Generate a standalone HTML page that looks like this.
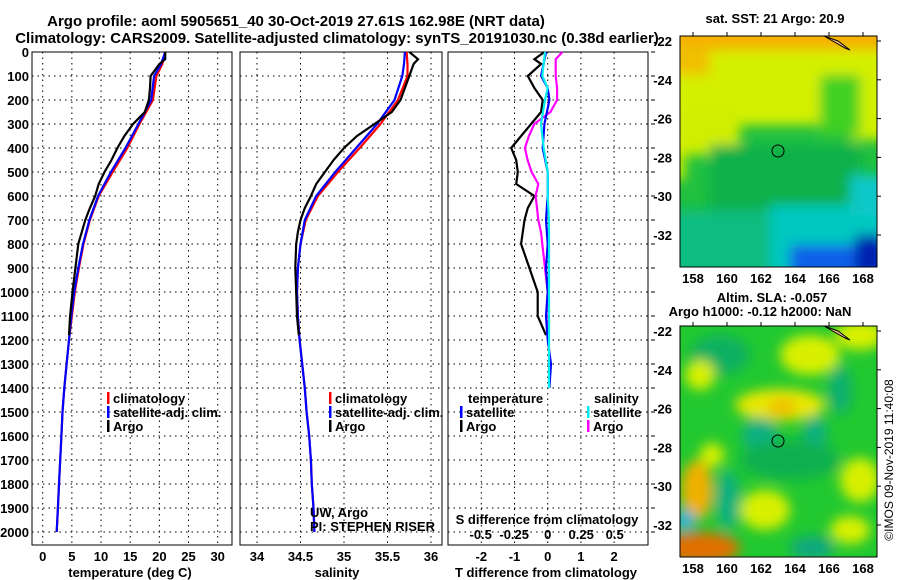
<!DOCTYPE html>
<html><head><meta charset="utf-8"><style>
body{margin:0;background:#fff}
svg{display:block;font-family:"Liberation Sans",sans-serif}
.b{font-weight:bold;font-size:13px}
.t{font-weight:bold;font-size:15px}
.g{stroke:#000;stroke-dasharray:1.5,4;stroke-width:1}
</style></head><body>
<svg id="s" width="900" height="580" xmlns="http://www.w3.org/2000/svg">
<defs>
<filter id="bl" x="-50%" y="-50%" width="200%" height="200%"><feGaussianBlur stdDeviation="6"/></filter>
<clipPath id="c1"><rect x="680" y="36" width="197" height="231"/></clipPath>
<clipPath id="c2"><rect x="680" y="326" width="197" height="231"/></clipPath>
</defs>
<text class="t" x="296" y="26" text-anchor="middle">Argo profile: aoml 5905651_40 30-Oct-2019 27.61S 162.98E (NRT data)</text>
<text class="t" x="337" y="43" text-anchor="middle">Climatology: CARS2009. Satellite-adjusted climatology: synTS_20191030.nc (0.38d earlier)</text>

<!-- map 1 -->
<g clip-path="url(#c1)">
<rect x="680" y="36" width="197" height="231" fill="#20c040"/>
<g filter="url(#bl)">
<rect x="660" y="20" width="240" height="105" fill="#d4f000"/>
<rect x="660" y="20" width="240" height="30" fill="#f5b000"/>
<rect x="660" y="45" width="50" height="30" fill="#f0c000"/>
<rect x="660" y="110" width="80" height="45" fill="#d0ee00"/>
<rect x="660" y="150" width="25" height="30" fill="#c8ee00"/>
<rect x="850" y="80" width="40" height="60" fill="#d0f000"/>
<rect x="820" y="75" width="40" height="60" fill="#40d020"/>
<rect x="710" y="145" width="150" height="80" fill="#10b048"/>
<rect x="660" y="210" width="110" height="70" fill="#10bc80"/>
<rect x="770" y="205" width="120" height="70" fill="#00c8c0"/>
<rect x="850" y="175" width="40" height="40" fill="#10c8c8"/>
<rect x="790" y="245" width="100" height="40" fill="#1060e8"/>
<rect x="855" y="235" width="30" height="40" fill="#0020b0"/>
</g>
</g>
<rect x="680" y="36" width="197" height="231" fill="none" stroke="#000"/>
<path d="M824 36 L845 48 L850 50 L838 41 Z" fill="#f8c090" stroke="#000"/>
<circle cx="778" cy="151" r="6" fill="none" stroke="#000"/>
<text class="b" x="775" y="23" text-anchor="middle">sat. SST: 21 Argo: 20.9</text>

<!-- map 2 -->
<g clip-path="url(#c2)">
<rect x="680" y="326" width="197" height="231" fill="#22c830"/>
<g filter="url(#bl)">
<ellipse cx="720" cy="355" rx="30" ry="20" fill="#10b060"/>
<ellipse cx="810" cy="355" rx="30" ry="20" fill="#d8f000"/>
<ellipse cx="860" cy="335" rx="25" ry="15" fill="#d8f000"/>
<ellipse cx="700" cy="375" rx="15" ry="15" fill="#d8f000"/>
<ellipse cx="780" cy="405" rx="45" ry="16" fill="#e8e800"/>
<ellipse cx="782" cy="408" rx="14" ry="10" fill="#f0c000"/>
<ellipse cx="760" cy="435" rx="18" ry="18" fill="#10b080"/>
<ellipse cx="815" cy="435" rx="12" ry="20" fill="#10b080"/>
<ellipse cx="840" cy="390" rx="12" ry="25" fill="#10b070"/>
<ellipse cx="790" cy="460" rx="50" ry="20" fill="#10b050"/>
<ellipse cx="697" cy="490" rx="16" ry="30" fill="#f0b000"/>
<ellipse cx="728" cy="500" rx="12" ry="30" fill="#10b080"/>
<ellipse cx="765" cy="510" rx="25" ry="20" fill="#d8f000"/>
<ellipse cx="700" cy="548" rx="40" ry="16" fill="#e07000"/>
<ellipse cx="685" cy="520" rx="10" ry="10" fill="#20b0e0"/>
<ellipse cx="812" cy="548" rx="22" ry="12" fill="#10a880"/>
<ellipse cx="860" cy="480" rx="20" ry="22" fill="#d8f000"/>
<ellipse cx="712" cy="455" rx="12" ry="12" fill="#d8f000"/>
<ellipse cx="850" cy="530" rx="20" ry="14" fill="#d8f000"/>
</g>
</g>
<rect x="680" y="326" width="197" height="231" fill="none" stroke="#000"/>
<path d="M824 326 L845 338 L850 340 L838 331 Z" fill="#f8c090" stroke="#000"/>
<circle cx="778" cy="441" r="6" fill="none" stroke="#000"/>
<text class="b" x="772" y="302" text-anchor="middle">Altim. SLA: -0.057</text>
<text class="b" x="760" y="316" text-anchor="middle">Argo h1000: -0.12 h2000: NaN</text>
<text x="893" y="460" font-size="12" text-anchor="middle" transform="rotate(-90 893 460)">©IMOS 09-Nov-2019 11:40:08</text>
<g id="plots"></g>
</svg>
<script>
// depth axis
const depthTicks=[0,100,200,300,400,500,600,700,800,900,1000,1100,1200,1300,1400,1500,1600,1700,1800,1900,2000];
// temperature profiles (deg C)
const tArgoZ=[0,30,50,100,150,200,250,300,350,400,450,500,550,600,650,700,750,800,900,1000,1100,1180];
const tArgo=[21,21,20,18.5,18.4,18.2,17.5,15.5,14,12.8,11.8,10.6,9.6,9,8.1,7.3,6.7,6.1,5.6,5.1,4.7,4.5];
const climZ=[0,50,100,200,300,400,500,600,700,800,900,1000,1100,1200,1300,1400,1500,1600,1700,1800,1900,2000];
const tClim=[21,20.5,19.5,18.9,16.6,14.5,12,9.6,8.1,7,6.2,5.5,5,4.5,4.1,3.7,3.4,3.2,3,2.8,2.6,2.4];
const tSat=[21,20.3,19.1,18.6,16.4,14.2,11.7,9.5,8,6.9,6.1,5.4,4.9,4.5,4.1,3.7,3.4,3.2,3,2.8,2.6,2.4];
const tTicks=[0,5,10,15,20,25,30];
// salinity profiles
const sArgo=[35.75,35.85,35.8,35.75,35.7,35.65,35.55,35.35,35.15,35,34.88,34.78,34.68,34.62,34.55,34.5,34.47,34.45,34.44,34.45,34.46,34.48];
const sClim=[35.72,35.73,35.73,35.62,35.42,35.18,34.93,34.7,34.56,34.5,34.47,34.46,34.47,34.49,34.52,34.55,34.57,34.6,34.62,34.63,34.65,34.66];
const sSat=[35.7,35.69,35.67,35.58,35.38,35.14,34.9,34.68,34.55,34.5,34.47,34.46,34.47,34.49,34.52,34.55,34.57,34.6,34.62,34.63,34.65,34.66];
const sTicks=[34,34.5,35,35.5,36];
// differences
const dTArgo=[-0.1,-0.4,-0.2,-0.6,-0.4,-0.15,-0.2,-0.5,-0.8,-1.1,-0.95,-0.9,-0.95,-0.4,-0.6,-0.7,-0.75,-0.8,-0.55,-0.3,-0.3,-0.05];
const dTSatZ=[0,100,150,200,300,400,500,600,700,800,900,1000,1100,1200,1300,1400];
const dTSat=[-0.05,-0.2,0,0.05,-0.1,-0.15,0,0,-0.05,0,-0.05,0,-0.05,0,0.1,0.05];
const dSArgo=[0.11,0.06,0.06,0.06,0.07,0.07,0.02,-0.1,-0.14,-0.17,-0.15,-0.12,-0.07,-0.09,-0.08,-0.07,-0.05,-0.04,-0.02,0,-0.01,0];
const dSSat=[-0.02,-0.04,0,-0.02,-0.05,-0.03,0,0,0.01,0.01,0.01,0.01,0.01,0.01,0.01,0.01];
const dTTicks=[-2,-1,0,1,2];
const dSTicks=[-0.5,-0.25,0,0.25,0.5];
const lonTicks=[158,160,162,164,166,168];
const latTicks=[-22,-24,-26,-28,-30,-32];

const NS='http://www.w3.org/2000/svg';
const plots=document.getElementById('plots');
function mk(tag,attrs,txt,parent){const e=document.createElementNS(NS,tag);for(const k in attrs)e.setAttribute(k,attrs[k]);if(txt!==undefined)e.textContent=txt;(parent||plots).appendChild(e);return e;}
const TOP=52,BOT=545;
const Y=d=>52+d*(532-52)/2000;
const xT=v=>42.7+v*(175/30);
const xS=v=>257+(v-34)*87;
const xD=v=>547.7+v*33.2;
const xDS=v=>547.7+v*134;
const lonX=v=>693+(v-158)*17;
const latY=(v,o)=>o+(-22-v)*19.4;

const panels=[{x:32,w:200},{x:240,w:202},{x:448,w:200}];
panels.forEach(p=>{
  depthTicks.forEach(d=>{const l=mk('line',{x1:p.x,x2:p.x+p.w,y1:Y(d),y2:Y(d),class:'g'});

});
});
tTicks.forEach(t=>{const l=mk('line',{x1:xT(t),x2:xT(t),y1:TOP,y2:BOT,class:'g'});


const tx=mk('text',{x:xT(t),y:561,'text-anchor':'middle',class:'b'},t);

});
sTicks.forEach(t=>{const l=mk('line',{x1:xS(t),x2:xS(t),y1:TOP,y2:BOT,class:'g'});


const tx=mk('text',{x:xS(t),y:561,'text-anchor':'middle',class:'b'},t);

});
dTTicks.forEach(t=>{const l=mk('line',{x1:xD(t),x2:xD(t),y1:TOP,y2:BOT,class:'g'});


const tx=mk('text',{x:xD(t),y:561,'text-anchor':'middle',class:'b'},t);

});
dSTicks.forEach(t=>{const tx=mk('text',{x:xDS(t),y:539,'text-anchor':'middle',class:'b'},t);

});
depthTicks.forEach(d=>{const tx=mk('text',{x:29,y:Y(d)+5,'text-anchor':'end',class:'b'},d);


const tk=mk('line',{x1:651,x2:655,y1:Y(d),y2:Y(d),stroke:'#000'});

});
panels.forEach(p=>{const r=mk('rect',{x:p.x,y:TOP,width:p.w,height:BOT-TOP,fill:'none',stroke:'#000'});

});

function line(zs,vs,fx,col,name,w){
  const pts=zs.map((z,i)=>fx(vs[i]).toFixed(1)+','+Y(z).toFixed(1)).join(' ');
  const e=mk('polyline',{points:pts,fill:'none',stroke:col,'stroke-width':w||2.2});
  
  
}
line(climZ,tClim,xT,'#f00','temperature-climatology-line');
line(climZ,tSat,xT,'#00f','temperature-satellite-line');
line(tArgoZ,tArgo,xT,'#000','temperature-argo-line');
line(climZ,sClim,xS,'#f00','salinity-climatology-line');
line(climZ,sSat,xS,'#00f','salinity-satellite-line');
line(tArgoZ,sArgo,xS,'#000','salinity-argo-line');
line(tArgoZ,dTArgo,xD,'#000','tdiff-argo-line');
line(tArgoZ,dSArgo,xDS,'#f0f','sdiff-argo-line');
line(dTSatZ,dTSat,xD,'#00f','tdiff-satellite-line');
line(dTSatZ,dSSat,xDS,'#0ee','sdiff-satellite-line');

function leg(x,y,col,txt,name){
  const r=mk('rect',{x:x,y:y-6,width:2.5,height:12,fill:col});
  
  
  const t=mk('text',{x:x+6,y:y+5,class:'b'},txt);
  
  
}
leg(107,398,'#f00','climatology','legend-climatology');
leg(107,412,'#00f','satellite-adj. clim.','legend-satellite');
leg(107,426,'#000','Argo','legend-argo');
leg(329,398,'#f00','climatology','legend-s-climatology');
leg(329,412,'#00f','satellite-adj. clim.','legend-s-satellite');
leg(329,426,'#000','Argo','legend-s-argo');
leg(460,412,'#00f','satellite','legend-tdiff-satellite');
leg(460,426,'#000','Argo','legend-tdiff-argo');
leg(587,412,'#0ee','satellite','legend-sdiff-satellite');
leg(587,426,'#f0f','Argo','legend-sdiff-argo');
function txt(x,y,s,name,anchor,cls){const t=mk('text',{x:x,y:y,'text-anchor':anchor||'start',class:cls||'b'},s);

return t;}
txt(468,403,'temperature','legend-temperature-heading');
txt(594,403,'salinity','legend-salinity-heading');
txt(547,524,'S difference from climatology','sdiff-axis-title','middle');
txt(130,577,'temperature (deg C)','x-axis-title-temperature','middle');
txt(337,577,'salinity','x-axis-title-salinity','middle');
txt(546,577,'T difference from climatology','x-axis-title-tdiff','middle');
const u=txt(310,517,'UW, Argo','credit-uw','start','');u.setAttribute('font-size','12');
const p=txt(310,531,'PI: STEPHEN RISER','credit-pi','start','');p.setAttribute('font-size','12');

[0,290].forEach(o=>{
  lonTicks.forEach(v=>{txt(lonX(v),o+283,v,'longitude-tick-label','middle');
  const a=mk('line',{x1:lonX(v),x2:lonX(v),y1:o+32,y2:o+36,stroke:'#000'});
  
  });
  latTicks.forEach(v=>{txt(672,latY(v,o+41)+5,v,'latitude-tick-label','end');
  const a=mk('line',{x1:877,x2:881,y1:latY(v,o+41),y2:latY(v,o+41),stroke:'#000'});
  
  });
});
</script>
</body></html>
